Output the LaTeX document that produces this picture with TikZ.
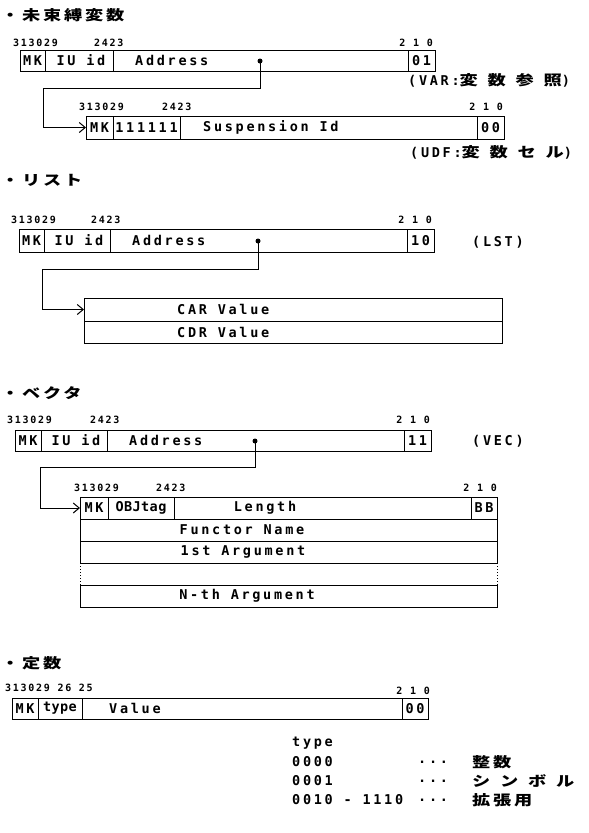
\documentclass[tikz,border=0pt]{standalone}
\usepackage{fontspec}
\usetikzlibrary{arrows.meta}
\newfontfamily\fldf[LetterSpace=20]{DejaVu Sans Mono}
\newfontfamily\fldn[LetterSpace=3]{DejaVu Sans Mono}
\newfontfamily\bitf[LetterSpace=17]{DejaVu Sans Mono}
\newfontfamily\cjk[FakeStretch=1.3,LetterSpace=20]{Noto Sans CJK JP}
\newfontfamily\cjkw[FakeStretch=1.3,LetterSpace=70]{Noto Sans CJK JP}
\tikzset{
  fld/.style={draw,line width=1pt,inner sep=0pt,outer sep=0pt,anchor=north west},
  ftxt/.style={font=\fldf\bfseries\fontsize{13.5}{13.5}\selectfont,inner sep=0pt},
  ftxtw/.style={ftxt,anchor=west},
  btxt/.style={font=\bitf\bfseries\fontsize{10}{10}\selectfont,inner sep=0pt},
  jtitle/.style={font=\cjk\bfseries\fontsize{14}{14}\selectfont,inner sep=0pt,anchor=west},
  jlbl/.style={font=\fldf\bfseries\fontsize{13.5}{13.5}\selectfont,inner sep=0pt,anchor=west},
  dotn/.style={circle,fill,inner sep=0pt,minimum size=5pt},
  conn/.style={line width=1pt,-{Straight Barb[length=6pt,width=10pt,line width=1pt]}},
}
\newcommand\fieldbx[5]{\node[fld,minimum width={(#4-#2)*1pt},minimum height={(#5-#3)*1pt}] (#1) at (#2,#3) {};}
\newcommand\jw[1]{{\cjkw\bfseries\fontsize{14}{14}\selectfont #1}}
\newcommand\jn[1]{{\cjk\bfseries\fontsize{14}{14}\selectfont #1}}
\begin{document}
\begin{tikzpicture}[x=1pt,y=-1pt]
\fill[white] (0,0) rectangle (589,833);
\useasboundingbox (0,0) rectangle (589,833);

% ---------- Section 1 : unbound variable ----------
\node[jtitle] (h1) at (1,15) {・未束縛変数};
\node[btxt,anchor=west] (b1a) at (13,43) {313029};
\node[btxt,anchor=west] (b1b) at (94,43) {2423};
\node[btxt,anchor=east] (b1c) at (433,43) {2 1 0};
\fieldbx{f1mk}{20}{50}{45}{71}
\fieldbx{f1iu}{45}{50}{113}{71}
\fieldbx{f1ad}{113}{50}{408}{71}
\fieldbx{f1tg}{408}{50}{435}{71}
\node[ftxt] (t1mk) at (f1mk) {MK};
\node[ftxt] (t1iu) at (81,60.5) {IU id};
\node[ftxtw] (t1ad) at (135,60.5) {Address};
\node[ftxt] (t1tg) at (f1tg) {01};
\node[dotn] (d1) at (260,61) {};
\node[jlbl] (l1) at (408,80) {(VAR:\jw{変数参照})};

\node[btxt,anchor=west] (b2a) at (79,107) {313029};
\node[btxt,anchor=west] (b2b) at (162,107) {2423};
\node[btxt,anchor=east] (b2c) at (503,107) {2 1 0};
\fieldbx{f2mk}{86}{116}{113}{139}
\fieldbx{f2on}{113}{116}{180}{139}
\fieldbx{f2sd}{180}{116}{477}{139}
\fieldbx{f2tg}{477}{116}{504}{139}
\node[ftxt] (t2mk) at (f2mk) {MK};
\node[ftxt] (t2on) at (f2on) {111111};
\node[ftxtw] (t2sd) at (203,127.5) {Suspension Id};
\node[ftxt] (t2tg) at (f2tg) {00};
\node[jlbl] (l2) at (410,152) {(UDF:\jw{変数セル})};
\coordinate (k1) at (43,88);
\draw[conn] (d1.center) |- (k1) |- (f2mk.west);

% ---------- Section 2 : list ----------
\node[jtitle] (h2) at (1,180) {・リスト};
\node[btxt,anchor=west] (b3a) at (11,220) {313029};
\node[btxt,anchor=west] (b3b) at (91,220) {2423};
\node[btxt,anchor=east] (b3c) at (432,220) {2 1 0};
\fieldbx{f3mk}{19}{229}{44}{252}
\fieldbx{f3iu}{44}{229}{110}{252}
\fieldbx{f3ad}{110}{229}{407}{252}
\fieldbx{f3tg}{407}{229}{434}{252}
\node[ftxt] (t3mk) at (f3mk) {MK};
\node[ftxt] (t3iu) at (79,240.5) {IU id};
\node[ftxtw] (t3ad) at (132,240.5) {Address};
\node[ftxt] (t3tg) at (f3tg) {10};
\node[dotn] (d2) at (258,241) {};
\node[jlbl] (l3) at (472,242) {(LST)};
\fieldbx{car}{84}{298}{502}{321}
\fieldbx{cdr}{84}{321}{502}{343}
\node[ftxtw] (tcar) at (177,309.5) {CAR Value};
\node[ftxtw] (tcdr) at (177,332) {CDR Value};
\coordinate (k2) at (42,269);
\draw[conn] (d2.center) |- (k2) |- (car.west);

% ---------- Section 3 : vector ----------
\node[jtitle] (h3) at (1,393) {・ベクタ};
\node[btxt,anchor=west] (b4a) at (7,420) {313029};
\node[btxt,anchor=west] (b4b) at (90,420) {2423};
\node[btxt,anchor=east] (b4c) at (430,420) {2 1 0};
\fieldbx{f4mk}{15}{430}{41}{451}
\fieldbx{f4iu}{41}{430}{107}{451}
\fieldbx{f4ad}{107}{430}{404}{451}
\fieldbx{f4tg}{404}{430}{431}{451}
\node[ftxt] (t4mk) at (f4mk) {MK};
\node[ftxt] (t4iu) at (76,440.5) {IU id};
\node[ftxtw] (t4ad) at (129,440.5) {Address};
\node[ftxt] (t4tg) at (f4tg) {11};
\node[dotn] (d3) at (255,441) {};
\node[jlbl] (l4) at (472,441) {(VEC)};

\node[btxt,anchor=west] (b5a) at (74,488) {313029};
\node[btxt,anchor=west] (b5b) at (156,488) {2423};
\node[btxt,anchor=east] (b5c) at (497,488) {2 1 0};
\fieldbx{v1mk}{80}{497}{108}{519}
\fieldbx{v1ob}{108}{497}{174}{519}
\fieldbx{v1ln}{174}{497}{471}{519}
\fieldbx{v1bb}{471}{497}{497}{519}
\fieldbx{v2}{80}{519}{497}{541}
\fieldbx{v3}{80}{541}{497}{563}
\fieldbx{v4}{80}{585}{497}{607}
\draw[line width=1pt,dotted] (v3.south west) -- (v4.north west);
\draw[line width=1pt,dotted] (v3.south east) -- (v4.north east);
\node[ftxt] (tv1mk) at (v1mk) {MK};
\node[ftxt,font=\fldn\bfseries\fontsize{13.5}{13.5}\selectfont] (tv1ob) at (v1ob) {OBJtag};
\node[ftxt] (tv1ln) at (265,508) {Length};
\node[ftxt] (tv1bb) at (v1bb) {BB};
\node[ftxt] (tv2) at (242,530) {Functor Name};
\node[ftxt] (tv3) at (243,552) {1st Argument};
\node[ftxt] (tv4) at (247,596) {N-th Argument};
\coordinate (k3) at (40,467);
\draw[conn] (d3.center) |- (k3) |- (v1mk.west);

% ---------- Section 4 : constant ----------
\node[jtitle] (h4) at (1,663) {・定数};
\node[btxt,anchor=west] (b6a) at (5,688) {313029 26 25};
\node[btxt,anchor=east] (b6c) at (430,691) {2 1 0};
\fieldbx{c1mk}{12}{698}{38}{719}
\fieldbx{c1ty}{38}{698}{82}{719}
\fieldbx{c1va}{82}{698}{402}{719}
\fieldbx{c1tg}{402}{698}{428}{719}
\node[ftxt] (tc1mk) at (c1mk) {MK};
\node[ftxt,font=\fldn\bfseries\fontsize{13.5}{13.5}\selectfont] (tc1ty) at (c1ty) {type};
\node[ftxtw] (tc1va) at (109,708.5) {Value};
\node[ftxt] (tc1tg) at (c1tg) {00};

\node[ftxtw] (ty0) at (292,743) {type};
\node[ftxtw] (ty1) at (292,762) {0000};
\node[ftxtw] (ty1d) at (418,762) {...};
\node[anchor=west,inner sep=0pt] (ty1j) at (472,762) {\jn{整数}};
\node[ftxtw] (ty2) at (292,781) {0001};
\node[ftxtw] (ty2d) at (418,781) {...};
\node[anchor=west,inner sep=0pt] (ty2j) at (472,781) {\jw{シンボル}};
\node[ftxtw] (ty3) at (292,800) {0010 - 1110};
\node[ftxtw] (ty3d) at (418,800) {...};
\node[anchor=west,inner sep=0pt] (ty3j) at (472,800) {\jn{拡張用}};
\end{tikzpicture}
\end{document}
